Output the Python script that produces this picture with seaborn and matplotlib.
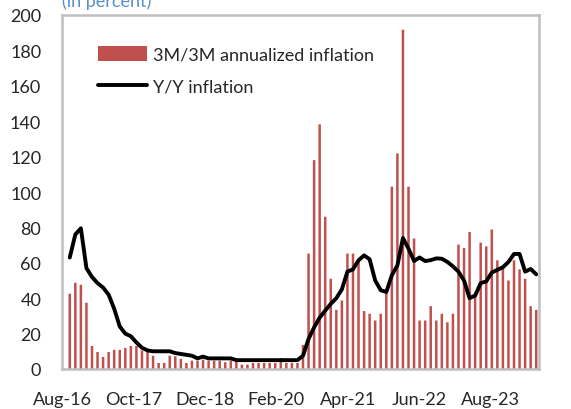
import numpy as np
import pandas as pd
import matplotlib
matplotlib.use("Agg")
import matplotlib.pyplot as plt
import seaborn as sns

sns.set_style("white")
plt.rcParams['font.family'] = ['Lato', 'DejaVu Sans']

# monthly, Aug-16 .. Aug-23
months = pd.date_range("2016-08-01", "2023-08-01", freq="MS")
tick_labels = ["Aug-16", "Oct-17", "Dec-18", "Feb-20", "Apr-21", "Jun-22", "Aug-23"]

m3_annualized = [
    42.5, 48.7, 47.6, 37.4, 13.0, 9.6, 6.8, 9.6, 10.8, 10.8, 11.9, 13.0,
    13.0, 10.4, 9.6, 7.5, 3.4, 3.4, 7.5, 7.2, 5.7, 3.4, 4.7, 4.7,
    5.3, 4.7, 4.7, 4.7, 3.8, 4.7, 4.7, 2.5, 2.5, 3.4, 3.4, 3.4,
    3.4, 3.4, 6.2, 3.4, 3.4, 3.4, 13.6, 65.2, 118.0, 138.2, 86.0, 51.0,
    33.4, 38.7, 65.2, 65.2, 62.3, 32.7, 31.2, 27.4, 31.2, 43.4, 103.0, 121.8,
    191.7, 103.0, 73.7, 27.4, 27.4, 35.5, 27.4, 31.2, 26.4, 31.2, 70.3, 68.4,
    77.4, 42.0, 71.4, 69.3, 78.8, 61.4, 57.8, 50.0, 61.4, 56.3, 51.0, 35.5,
    33.4,
]
yoy = [
    63.0, 76.0, 79.5, 57.0, 52.0, 48.5, 46.0, 42.0, 34.0, 24.0, 20.0, 18.5,
    15.0, 12.0, 10.5, 10.0, 10.0, 10.0, 10.0, 9.0, 8.5, 8.0, 7.5, 6.0,
    7.0, 6.0, 6.0, 6.0, 6.0, 6.0, 5.0, 5.0, 5.0, 5.0, 5.0, 5.0,
    5.0, 5.0, 5.0, 5.0, 5.0, 5.0, 7.5, 17.0, 23.5, 29.0, 33.0, 36.8,
    40.0, 45.0, 55.0, 56.3, 61.4, 64.2, 62.0, 50.0, 44.5, 43.5, 53.0, 58.5,
    74.0, 68.0, 61.0, 63.0, 61.0, 61.5, 62.5, 62.3, 60.5, 58.0, 55.0, 50.0,
    40.0, 41.5, 48.5, 49.5, 54.5, 56.0, 57.5, 60.5, 65.0, 65.0, 55.0, 56.5,
    53.5,
]

df = pd.DataFrame({"pos": np.arange(len(months)), "m3": m3_annualized, "yoy": yoy})

fig, ax = plt.subplots(figsize=(5.71, 4.10), dpi=100)
fig.subplots_adjust(left=62 / 571, right=539 / 571, top=1 - 16 / 410, bottom=1 - 370 / 410)

sns.barplot(data=df, x="pos", y="m3", native_scale=True, width=0.45,
            color="#c0504d", saturation=1, linewidth=0, ax=ax,
            label="3M/3M annualized inflation")
for p in ax.patches:
    p.set_snap(False)
sns.lineplot(data=df, x="pos", y="yoy", color="black", linewidth=2.8, ax=ax,
             label="Y/Y inflation")

ax.set_xlim(-0.5, 84.5)
ax.set_ylim(0, 200)
ax.set_yticks(np.arange(0, 201, 20))
ax.set_xlabel("")
ax.set_ylabel("")

# labels sit a bit left of the tick marks, as in the original
ax.set_xticks(np.linspace(-1.4, 75.8, len(tick_labels)))
ax.set_xticklabels(tick_labels)
ax.set_xticks(np.arange(-0.5, 85, 14), minor=True)
ax.tick_params(axis="x", which="major", length=0, pad=16, labelsize=13)
ax.tick_params(axis="x", which="minor", direction="in", length=5, width=1.5, color="#bfbfbf")
ax.tick_params(axis="y", direction="in", length=5, width=1.2, color="#bfbfbf", labelsize=13, pad=15)

for s in ax.spines.values():
    s.set_color("#bfbfbf")
    s.set_linewidth(1.8)

handles, labels = ax.get_legend_handles_labels()
order = [labels.index("3M/3M annualized inflation"), labels.index("Y/Y inflation")]
ax.legend([handles[i] for i in order], [labels[i] for i in order],
          loc="upper left", bbox_to_anchor=(0.075, 0.913), frameon=False, fontsize=13,
          handlelength=2.7, handleheight=0.9, handletextpad=0.35, labelspacing=0.85,
          borderpad=0, borderaxespad=0)

fig.text(62 / 571, 1 - 7 / 410, "(in percent)", color="#5b8fc7", fontsize=13, va="baseline")

fig.savefig("out.png", dpi=100)
